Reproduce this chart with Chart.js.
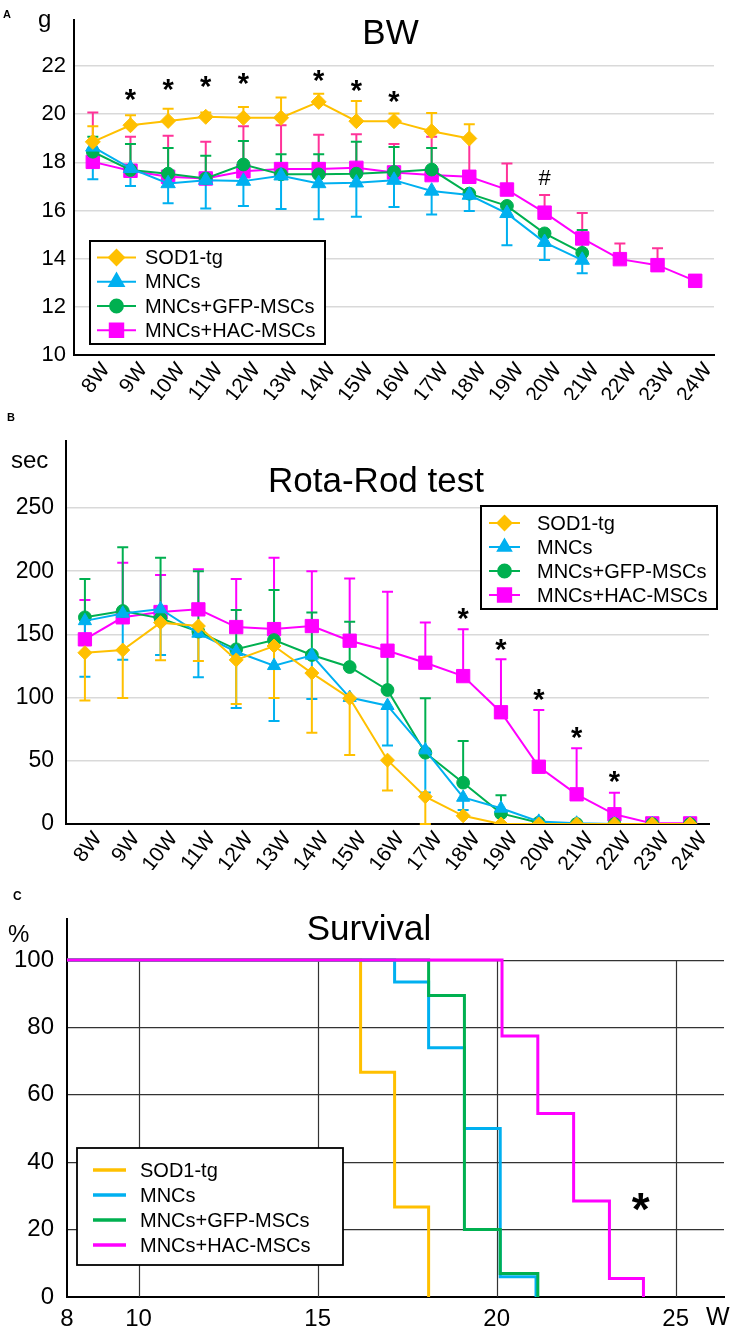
<!DOCTYPE html>
<html><head><meta charset="utf-8">
<script src="https://cdn.jsdelivr.net/npm/chart.js@4.4.1/dist/chart.umd.min.js"></script>
<style>
html,body{margin:0;padding:0;background:#fff;}
body{width:732px;height:1343px;position:relative;overflow:hidden;}
canvas{position:absolute;left:0;}
</style></head><body>
<canvas id="cA" width="732" height="400" style="top:0;width:732px;height:400px"></canvas>
<canvas id="cB" width="732" height="470" style="top:400px;width:732px;height:470px"></canvas>
<canvas id="cC" width="732" height="473" style="top:870px;width:732px;height:473px"></canvas>
<script>
// ---------- data ----------
const weeks = ['8W','9W','10W','11W','12W','13W','14W','15W','16W','17W','18W','19W','20W','21W','22W','23W','24W'];
const groups = ['SOD1-tg','MNCs','MNCs+GFP-MSCs','MNCs+HAC-MSCs'];

// A: body weight (g) – means and error-bar ends
const bwSOD1      = [18.85,19.54,19.72,19.89,19.85,19.85,20.51,19.71,19.71,19.29,18.99,null,null,null,null,null,null];
const bwSOD1Upper = [19.5,19.95,20.23,20.07,20.3,20.69,20.85,20.55,20.03,20.05,19.58,null,null,null,null,null,null];
const bwMNC       = [18.64,17.75,17.12,17.26,17.22,17.44,17.12,17.15,17.26,16.81,16.64,15.88,14.68,13.94,null,null,null];
const bwMNCLower  = [17.3,17.02,16.3,16.08,16.19,16.06,15.64,15.74,16.15,15.83,15.98,14.56,13.94,13.39,null,null,null];
const bwGFP       = [18.44,17.68,17.53,17.33,17.91,17.5,17.5,17.53,17.6,17.7,16.7,16.19,15.05,14.24,null,null,null];
const bwGFPUpper  = [19.06,18.76,18.6,18.27,18.89,18.34,18.34,18.85,18.64,18.6,null,null,null,15.19,null,null,null];
const bwHAC       = [18.02,17.65,17.4,17.33,17.63,17.72,17.72,17.77,17.58,17.47,17.4,16.87,15.91,14.84,13.98,13.73,13.08];
const bwHACUpper  = [20.07,19.06,19.1,18.85,19.5,19.54,19.15,19.17,18.76,19.06,19.0,17.95,16.64,15.9,14.63,14.43,null];
const bwTicks = [10,12,14,16,18,20,22];
const bwStarWeeks = ['9W','10W','11W','12W','14W','15W','16W'];
const bwStarY = [20.8,21.21,21.35,21.45,21.59,21.17,20.73];
const bwHashWeeks = ['20W'];
const bwHashY = [17.37];

// B: Rota-Rod (sec)
const rrSOD1      = [135.5,137.6,159.3,156.6,129.8,140.8,119.4,99.5,50.5,21.6,6.5,0,0,0,0,0,0];
const rrSOD1Lower = [97.8,99.6,129.5,129,94.9,99.6,72.2,54.5,26.6,0,null,null,null,null,null,null,null];
const rrMNC       = [160.7,166.6,170.1,150.8,136.3,125.2,133.4,100,93.6,58.5,21,12.4,2,0.5,0,0,0];
const rrMNCLower  = [116.5,130,133.7,116,91.8,81.5,98.9,98,62.2,25,11,null,null,null,null,null,null];
const rrGFP       = [163.5,168.5,162.7,152.2,138.2,145.5,133.7,124.2,106,56.4,32.7,8.4,1,0,0,0,0];
const rrGFPUpper  = [193.8,219,210.7,200,169.3,185.1,167.4,160,138,99.4,65.7,22.7,null,null,null,null,null];
const rrHAC       = [146.1,163.5,167.7,169.8,155.8,154.2,156.6,145,137.1,127.6,117,88.4,45.3,23.5,7.7,0.5,0.5];
const rrHACUpper  = [177.3,206.7,197,201.6,193.8,210.7,200,194.3,183.8,159.5,154,130.3,90.2,59.9,24.8,null,null];
const rrTicks = [0,50,100,150,200,250];
const rrStarWeeks = ['18W','19W','20W','21W','22W'];
const rrStarY = [166.1,141.6,102,72.2,37.2];

// C: survival (%), step curves: week of each step and level after it
const survSOD1W = [8,16.2,17.15,18.1];
const survSOD1P = [100,66.7,26.7,0];
const survMNCW  = [8,17.15,18.1,19.1,20.1,21.1];
const survMNCP  = [100,93.5,74,50,6,0];
const survGFPW  = [8,18.1,19.1,20.1,21.15];
const survGFPP  = [100,89.5,20,7,0];
const survHACW  = [8,20.15,21.15,22.15,23.15,24.1];
const survHACP  = [100,77.5,54.5,28.5,5.5,0];
const survTicksX = [8,10,15,20,25];
const survTicksY = [0,20,40,60,80,100];
const survStarW = [24.02];
const survStarP = [28.3];

// ---------- style ----------
const FONT = "'Liberation Sans', Arial, Helvetica, sans-serif";
Chart.defaults.font.family = FONT;
Chart.defaults.color = '#000';
const cOrange = '#FFC000', cCyan = '#00B0F0', cGreen = '#00B050', cMagenta = '#FF00FF';

function pointDrawer(ctx, style, radius, x, y) {
  if (Chart.helpers && Chart.helpers.drawPoint) {
    Chart.helpers.drawPoint(ctx, {pointStyle: style, radius: radius, rotation: 0, borderWidth: 1}, x, y);
  } else {
    ctx.beginPath(); ctx.arc(x, y, radius, 0, Math.PI * 2); ctx.fill();
  }
}

function decor(cfg) {
  return {
    id: 'decor',
    beforeDatasetsDraw(chart) {
      const ctx = chart.ctx, xs = chart.scales.x, ys = chart.scales.y;
      if (cfg.vgrid) {
        ctx.save(); ctx.strokeStyle = cfg.vgrid.color; ctx.lineWidth = cfg.vgrid.width;
        cfg.vgrid.values.forEach(v => {
          const x = Math.round(xs.getPixelForValue(v)) + 0.5;
          ctx.beginPath(); ctx.moveTo(x, ys.getPixelForValue(cfg.vgrid.from)); ctx.lineTo(x, ys.getPixelForValue(cfg.vgrid.to)); ctx.stroke();
        });
        ctx.restore();
      }
      (cfg.errorBars || []).forEach(sp => {
        const vals = chart.data.datasets[sp.ds].data;
        ctx.save(); ctx.strokeStyle = sp.color; ctx.lineWidth = 2;
        sp.ends.forEach((e, i) => {
          if (e == null || vals[i] == null) return;
          const x = xs.getPixelForValue(i);
          const y0 = ys.getPixelForValue(vals[i]), y1 = ys.getPixelForValue(e);
          ctx.beginPath(); ctx.moveTo(x, y0); ctx.lineTo(x, y1);
          ctx.moveTo(x - 5.5, y1); ctx.lineTo(x + 5.5, y1); ctx.stroke();
        });
        ctx.restore();
      });
    },
    afterDatasetsDraw(chart) {
      const ctx = chart.ctx, xs = chart.scales.x, ys = chart.scales.y;
      (cfg.marks || []).forEach(m => {
        ctx.save(); ctx.font = m.font; ctx.fillStyle = '#000'; ctx.textAlign = 'center'; ctx.textBaseline = 'alphabetic';
        const mt = ctx.measureText(m.text);
        const off = (mt.actualBoundingBoxAscent - mt.actualBoundingBoxDescent) / 2;
        m.xs.forEach((xv, i) => {
          const x = m.category ? xs.getPixelForValue(weeks.indexOf(xv)) : xs.getPixelForValue(xv);
          const y = ys.getPixelForValue(m.ys[i]);
          ctx.fillText(m.text, x, y + off);
        });
        ctx.restore();
      });
    },
    afterDraw(chart) {
      const ctx = chart.ctx;
      (cfg.texts || []).forEach(t => {
        ctx.save(); ctx.font = t.font; ctx.fillStyle = '#000';
        ctx.textAlign = t.align || 'left'; ctx.textBaseline = t.baseline || 'alphabetic';
        ctx.fillText(t.text, t.x, t.y); ctx.restore();
      });
      const L = cfg.legend;
      if (L) {
        ctx.save();
        ctx.fillStyle = '#fff'; ctx.fillRect(L.x, L.y, L.w, L.h);
        ctx.strokeStyle = '#000'; ctx.lineWidth = L.border; ctx.strokeRect(L.x, L.y, L.w, L.h);
        chart.data.datasets.forEach((ds, i) => {
          const y = L.rows[i];
          ctx.strokeStyle = ds.borderColor; ctx.lineWidth = L.lineWidth;
          ctx.beginPath(); ctx.moveTo(L.sx1, y); ctx.lineTo(L.sx2, y); ctx.stroke();
          if (L.markers) {
            ctx.fillStyle = ds.borderColor; ctx.strokeStyle = ds.borderColor;
            pointDrawer(ctx, ds.pointStyle, ds.pointRadius, (L.sx1 + L.sx2) / 2, y);
          }
          ctx.fillStyle = '#000'; ctx.font = L.font; ctx.textAlign = 'left'; ctx.textBaseline = 'middle';
          ctx.fillText(ds.label, L.tx, y + 1);
        });
        ctx.restore();
      }
    }
  };
}

function seriesDS(label, data, color, style, radius) {
  return { label, data, borderColor: color, backgroundColor: color,
    pointBackgroundColor: color, pointBorderColor: color, pointStyle: style,
    pointRadius: radius, pointHoverRadius: radius, pointBorderWidth: 1,
    borderWidth: 2, tension: 0, fill: false, spanGaps: false };
}

function catX(height, labelOffset) {
  return {
    type: 'category', labels: weeks, offset: true,
    grid: { display: false, drawTicks: false },
    border: { display: true, color: '#000', width: 2 },
    ticks: { autoSkip: false, minRotation: 52, maxRotation: 52, labelOffset: labelOffset, padding: 3,
             font: { family: FONT, size: 21 }, color: '#000' },
    afterFit: s => { s.height = height; s.paddingLeft = 0; s.paddingRight = 0; }
  };
}
function linY(min, max, tickVals, width, fontSize, pad) {
  return {
    type: 'linear', min: min, max: max,
    afterBuildTicks: s => { s.ticks = tickVals.map(v => ({ value: v })); },
    grid: { color: c => (c.tick && c.tick.value === min) ? 'rgba(0,0,0,0)' : '#d9d9d9', lineWidth: 1.5, drawTicks: false },
    border: { display: true, color: '#000', width: 2 },
    ticks: { padding: pad, font: { family: FONT, size: fontSize }, color: '#000' },
    afterFit: s => { s.width = width; s.paddingTop = 0; s.paddingBottom = 0; }
  };
}
const baseOpts = { responsive: false, animation: false, devicePixelRatio: 1,
  plugins: { legend: { display: false }, title: { display: false }, tooltip: { enabled: false } } };

// ---------- Panel A (canvas top = 0) ----------
new Chart(document.getElementById('cA'), {
  type: 'line',
  data: { labels: weeks, datasets: [
    seriesDS(groups[0], bwSOD1, cOrange, 'rectRot', 7.5),
    seriesDS(groups[1], bwMNC, cCyan, 'triangle', 8.3),
    seriesDS(groups[2], bwGFP, cGreen, 'circle', 6.4),
    seriesDS(groups[3], bwHAC, cMagenta, 'rect', 9.5)
  ]},
  options: Object.assign({}, baseOpts, {
    layout: { padding: { left: 0, right: 18, top: 20, bottom: 0 } },
    scales: { x: catX(45, 13), y: linY(10, 23.91, bwTicks, 74, 22, 8) }
  }),
  plugins: [decor({
    errorBars: [
      { ds: 3, ends: bwHACUpper, color: '#FF3399' },
      { ds: 2, ends: bwGFPUpper, color: cGreen },
      { ds: 1, ends: bwMNCLower, color: cCyan },
      { ds: 0, ends: bwSOD1Upper, color: cOrange }
    ],
    marks: [
      { text: '*', font: 'bold 29px ' + FONT, category: true, xs: bwStarWeeks, ys: bwStarY },
      { text: '#', font: '22px ' + FONT, category: true, xs: bwHashWeeks, ys: bwHashY }
    ],
    texts: [
      { text: 'A', x: 3, y: 17.5, font: 'bold 11px ' + FONT },
      { text: 'g', x: 38, y: 27, font: '24px ' + FONT },
      { text: 'BW', x: 390.5, y: 43.5, font: '35px ' + FONT, align: 'center' }
    ],
    legend: { x: 90, y: 241, w: 235, h: 103, border: 2, rows: [257.5, 281.8, 306, 330.3],
              sx1: 97, sx2: 136, tx: 145, font: '20px ' + FONT, lineWidth: 2, markers: true }
  })]
});

// ---------- Panel B (canvas top = 400) ----------
new Chart(document.getElementById('cB'), {
  type: 'line',
  data: { labels: weeks, datasets: [
    seriesDS(groups[0], rrSOD1, cOrange, 'rectRot', 7),
    seriesDS(groups[1], rrMNC, cCyan, 'triangle', 7.6),
    seriesDS(groups[2], rrGFP, cGreen, 'circle', 6.4),
    seriesDS(groups[3], rrHAC, cMagenta, 'rect', 9.4)
  ]},
  options: Object.assign({}, baseOpts, {
    layout: { padding: { left: 0, right: 23, top: 41, bottom: 0 } },
    scales: { x: catX(46, 13), y: linY(0, 303, rrTicks, 66, 23, 12) }
  }),
  plugins: [decor({
    errorBars: [
      { ds: 3, ends: rrHACUpper, color: cMagenta },
      { ds: 2, ends: rrGFPUpper, color: cGreen },
      { ds: 1, ends: rrMNCLower, color: cCyan },
      { ds: 0, ends: rrSOD1Lower, color: cOrange }
    ],
    marks: [
      { text: '*', font: 'bold 29px ' + FONT, category: true, xs: rrStarWeeks, ys: rrStarY }
    ],
    texts: [
      { text: 'B', x: 7, y: 21, font: 'bold 11px ' + FONT },
      { text: 'sec', x: 11, y: 68, font: '24px ' + FONT },
      { text: 'Rota-Rod test', x: 376, y: 91.7, font: '35px ' + FONT, align: 'center' }
    ],
    legend: { x: 481, y: 106, w: 236, h: 103, border: 2, rows: [123, 147, 171, 195],
              sx1: 489, sx2: 520, tx: 537, font: '20px ' + FONT, lineWidth: 2, markers: true }
  })]
});

// ---------- Panel C (canvas top = 870) ----------
function stepDS(label, ws, ps, color, order) {
  return { label, data: ws.map((w, i) => ({ x: w, y: ps[i] })), borderColor: color, backgroundColor: color,
    borderWidth: 3, pointRadius: 0, stepped: true, fill: false, order: order, tension: 0 };
}
new Chart(document.getElementById('cC'), {
  type: 'line',
  data: { datasets: [
    stepDS(groups[0], survSOD1W, survSOD1P, cOrange, 3),
    stepDS(groups[1], survMNCW, survMNCP, cCyan, 2),
    stepDS(groups[2], survGFPW, survGFPP, cGreen, 1),
    stepDS(groups[3], survHACW, survHACP, cMagenta, 0)
  ]},
  options: Object.assign({}, baseOpts, {
    layout: { padding: { left: 0, right: 8, top: 49, bottom: 0 } },
    scales: {
      x: { type: 'linear', min: 8, max: 26.35,
           afterBuildTicks: s => { s.ticks = survTicksX.map(v => ({ value: v })); },
           grid: { display: false, drawTicks: false },
           border: { display: true, color: '#000', width: 2 },
           ticks: { padding: 8, font: { family: FONT, size: 24 }, color: '#000', maxRotation: 0 },
           afterFit: s => { s.height = 46; s.paddingLeft = 0; s.paddingRight = 0; } },
      y: { type: 'linear', min: 0, max: 112.2,
           afterBuildTicks: s => { s.ticks = survTicksY.map(v => ({ value: v })); },
           grid: { color: c => (c.tick && c.tick.value === 0) ? 'rgba(0,0,0,0)' : '#333', lineWidth: 1.2, drawTicks: false },
           border: { display: true, color: '#000', width: 2 },
           ticks: { padding: 13, font: { family: FONT, size: 24 }, color: '#000' },
           afterFit: s => { s.width = 67; s.paddingTop = 0; s.paddingBottom = 0; } }
    }
  }),
  plugins: [decor({
    vgrid: { values: [10, 15, 20, 25], from: 0, to: 100, color: '#333', width: 1.2 },
    marks: [ { text: '*', font: 'bold 46px ' + FONT, category: false, xs: survStarW, ys: survStarP } ],
    texts: [
      { text: 'C', x: 13, y: 30, font: 'bold 12px ' + FONT },
      { text: '%', x: 8, y: 72, font: '24px ' + FONT },
      { text: 'Survival', x: 369, y: 70, font: '35px ' + FONT, align: 'center' },
      { text: 'W', x: 706, y: 448, font: '25px ' + FONT, baseline: 'middle' }
    ],
    legend: { x: 77, y: 278, w: 266, h: 117, border: 1.8, rows: [300, 325, 350, 375],
              sx1: 93, sx2: 126, tx: 140, font: '20px ' + FONT, lineWidth: 3.5, markers: false }
  })]
});
</script>
</body></html>
